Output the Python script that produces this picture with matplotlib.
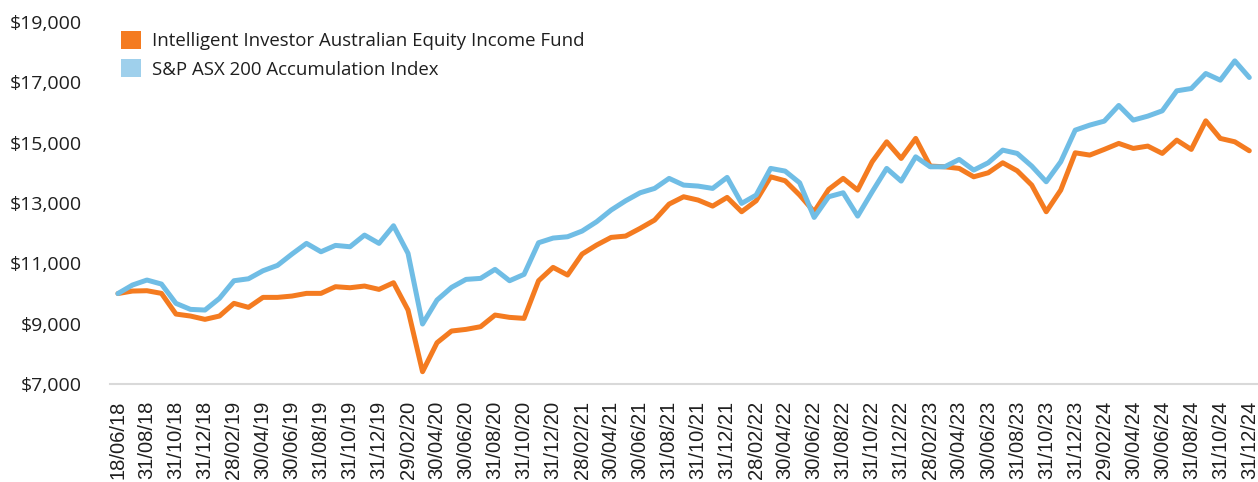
import matplotlib
matplotlib.use('Agg')
import matplotlib.pyplot as plt
from matplotlib.patches import Patch
import pandas as pd

# growth of $10,000
dates = [pd.Timestamp('2018-06-18')] + list(pd.date_range('2018-07-31', '2024-12-31', freq='ME'))
date_labels = [d.strftime('%d/%m/%y') for d in dates]

fund = [10000, 10083, 10094, 10006, 9320, 9254, 9144, 9254, 9675, 9542,
        9873, 9873, 9917, 10006, 10006, 10227, 10193, 10249, 10138, 10359,
        9453, 7408, 8370, 8757, 8812, 8900, 9287, 9210, 9177, 10425,
        10868, 10614, 11310, 11608, 11862, 11906, 12161, 12437, 12967, 13210,
        13100, 12900, 13188, 12713, 13076, 13872, 13740, 13265, 12713, 13453,
        13819, 13431, 14370, 15033, 14480, 15145, 14227, 14204, 14150, 13872,
        14005, 14337, 14071, 13597, 12713, 13431, 14668, 14592, 14780, 14979,
        14813, 14890, 14647, 15088, 14780, 15728, 15145, 15033, 14735]

index = [10000, 10282, 10448, 10315, 9675, 9475, 9453, 9840, 10425, 10490,
         10756, 10934, 11310, 11664, 11386, 11597, 11552, 11939, 11664, 12248,
         11333, 8989, 9785, 10204, 10470, 10503, 10802, 10425, 10636, 11685,
         11840, 11884, 12072, 12381, 12768, 13076, 13342, 13487, 13819, 13597,
         13564, 13487, 13852, 12990, 13265, 14150, 14061, 13673, 12525, 13210,
         13342, 12569, 13375, 14150, 13729, 14535, 14204, 14204, 14448, 14094,
         14337, 14757, 14647, 14227, 13707, 14370, 15420, 15586, 15718, 16238,
         15752, 15884, 16060, 16723, 16800, 17298, 17077, 17717, 17166]

series_names = ['Intelligent Investor Australian Equity Income Fund',
                'S&P ASX 200 Accumulation Index']
y_ticks = list(range(7000, 19001, 2000))

orange = '#F47B20'
blue = '#70BDE5'
blue_light = '#9FD0EC'
text_col = '#1f1f1f'

fig = plt.figure(figsize=(12.58, 4.82), dpi=100)
ax = fig.add_axes([0.0874, 0.2033, 0.9126, 0.7507])

x = list(range(len(dates)))
ax.plot(x, fund, color=orange, lw=3.6, solid_joinstyle='round', solid_capstyle='round')
ax.plot(x, index, color=blue, lw=3.6, solid_joinstyle='round', solid_capstyle='round')

ax.set_xlim(-0.55, 78.6)
ax.set_ylim(7000, 19000)

ax.set_yticks(y_ticks)
ax.set_yticklabels(['${:,}'.format(v) for v in y_ticks], fontfamily='Open Sans',
                   fontsize=14, color=text_col)
ax.set_xticks(x[::2])
ax.set_xticklabels(date_labels[::2], rotation=90, fontfamily='Liberation Sans',
                   fontsize=14.5, color=text_col)
ax.tick_params(length=0)
ax.tick_params(axis='x', pad=12)
ax.tick_params(axis='y', pad=20)

for s in ['top', 'right', 'left']:
    ax.spines[s].set_visible(False)
ax.spines['bottom'].set_color('#D9D9D9')
ax.spines['bottom'].set_linewidth(1.5)

handles = [Patch(facecolor=orange, edgecolor='none'),
           Patch(facecolor=blue_light, edgecolor='none')]
fig.legend(handles, series_names, loc='upper left',
           bbox_to_anchor=(121 / 1258, 1 - 31 / 482), frameon=False,
           prop={'family': 'Open Sans', 'size': 13.4}, labelcolor=text_col,
           handlelength=1.075, handleheight=1.075, handletextpad=0.59,
           labelspacing=0.5, borderaxespad=0, borderpad=0)

fig.savefig('out.png', dpi=100)
